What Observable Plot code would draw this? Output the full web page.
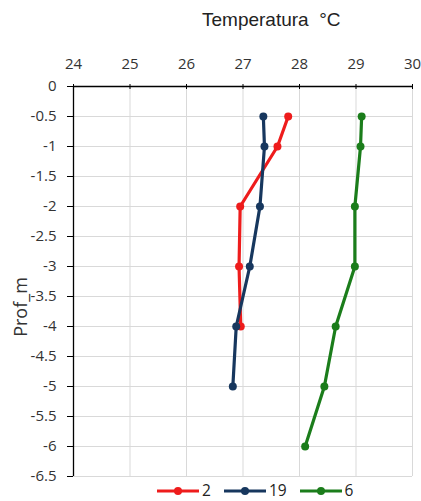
<!DOCTYPE html>
<html>
<head>
<meta charset="utf-8">
<script src="https://cdn.jsdelivr.net/npm/d3@7"></script>
<script src="https://cdn.jsdelivr.net/npm/@observablehq/plot@0.6"></script>
<style>
  body { margin: 0; background: #fff; font-family: "Open Sans", Lato, sans-serif; }
  #wrap { position: relative; width: 421px; height: 501px; overflow: hidden; }
  #title { position: absolute; left: 202px; top: 10px; line-height: 19px; white-space: pre;
           font-family: "Liberation Sans", Arial, sans-serif; font-size: 19px; color: #222; }
  #ylab { position: absolute; left: 20px; top: 307px; transform: translate(-50%, -50%) rotate(-90deg);
          font-family: "Open Sans", sans-serif; font-size: 18px; line-height: 18px; color: #333; white-space: nowrap; }
  #legend { position: absolute; top: 483px; left: 157px; display: flex; align-items: center; gap: 13px;
            font-family: "Open Sans", sans-serif; font-size: 15.5px; line-height: 15px; color: #222; }
  .item { display: flex; align-items: center; gap: 3px; }
  #chart { position: absolute; left: 0; top: 0; }
</style>
</head>
<body>
<div id="wrap">
  <div id="chart"></div>
  <div id="title">Temperatura  °C</div>
  <div id="ylab">Prof_m</div>
  <div id="legend"></div>
</div>
<script>
const depths = [-0.5, -1, -2, -3, -4, -5, -6];
const seriesNames = ["2", "19", "6"];
const seriesColors = ["#ee1c1c", "#17375e", "#1b7d1b"];
const temp2  = [27.80, 27.61, 26.95, 26.93, 26.96];
const temp19 = [27.36, 27.38, 27.30, 27.12, 26.88, 26.82];
const temp6  = [29.10, 29.08, 28.98, 28.98, 28.64, 28.44, 28.10];
const xTicks = [24, 25, 26, 27, 28, 29, 30];
const yTicks = [0, -0.5, -1, -1.5, -2, -2.5, -3, -3.5, -4, -4.5, -5, -5.5, -6, -6.5];

const rows = [];
[temp2, temp19, temp6].forEach((arr, i) => {
  arr.forEach((t, j) => rows.push({series: seriesNames[i], temp: t, depth: depths[j]}));
});

const plot = Plot.plot({
  width: 421,
  height: 490,
  marginLeft: 73,
  marginRight: 9,
  marginTop: 86,
  marginBottom: 14,
  style: {fontFamily: "'Open Sans', sans-serif", fontSize: "15px", color: "#333"},
  x: {domain: [24, 30], ticks: xTicks},
  y: {domain: [-6.5, 0], ticks: yTicks},
  color: {domain: seriesNames, range: seriesColors},
  marks: [
    Plot.gridX(xTicks.slice(1), {stroke: "#d9d9d9", strokeOpacity: 1}),
    Plot.gridY(yTicks.slice(1), {stroke: "#d9d9d9", strokeOpacity: 1}),
    Plot.axisX({anchor: "top", ticks: xTicks, tickSize: 3, tickPadding: 15, label: null, stroke: "#000", fill: "#333",
                fontSize: 15, tickFormat: d => String(d)}),
    Plot.axisY({anchor: "left", ticks: yTicks, tickSize: 6, tickPadding: 11, label: null, stroke: "#000", fill: "#333",
                fontSize: 15, tickFormat: d => d === 0 ? "0" : String(d)}),
    Plot.ruleX(xTicks, {y1: 0, y2: -0.05, stroke: "#000"}),
    Plot.ruleY([0], {stroke: "#000", strokeWidth: 1.3}),
    Plot.ruleX([24], {stroke: "#000", strokeWidth: 1.3}),
    Plot.line(rows, {x: "temp", y: "depth", z: "series", stroke: "series", strokeWidth: 3.2, curve: "linear"}),
    Plot.dot(rows, {x: "temp", y: "depth", fill: "series", r: 4})
  ]
});
document.getElementById("chart").appendChild(plot);

const legend = document.getElementById("legend");
seriesNames.forEach((name, i) => {
  const item = document.createElement("div");
  item.className = "item";
  item.innerHTML = `<svg width="42" height="10"><line x1="0" x2="42" y1="5" y2="5" stroke="${seriesColors[i]}" stroke-width="3.2"/><circle cx="21" cy="5" r="4" fill="${seriesColors[i]}"/></svg><span>${name}</span>`;
  legend.appendChild(item);
});
</script>
</body>
</html>
